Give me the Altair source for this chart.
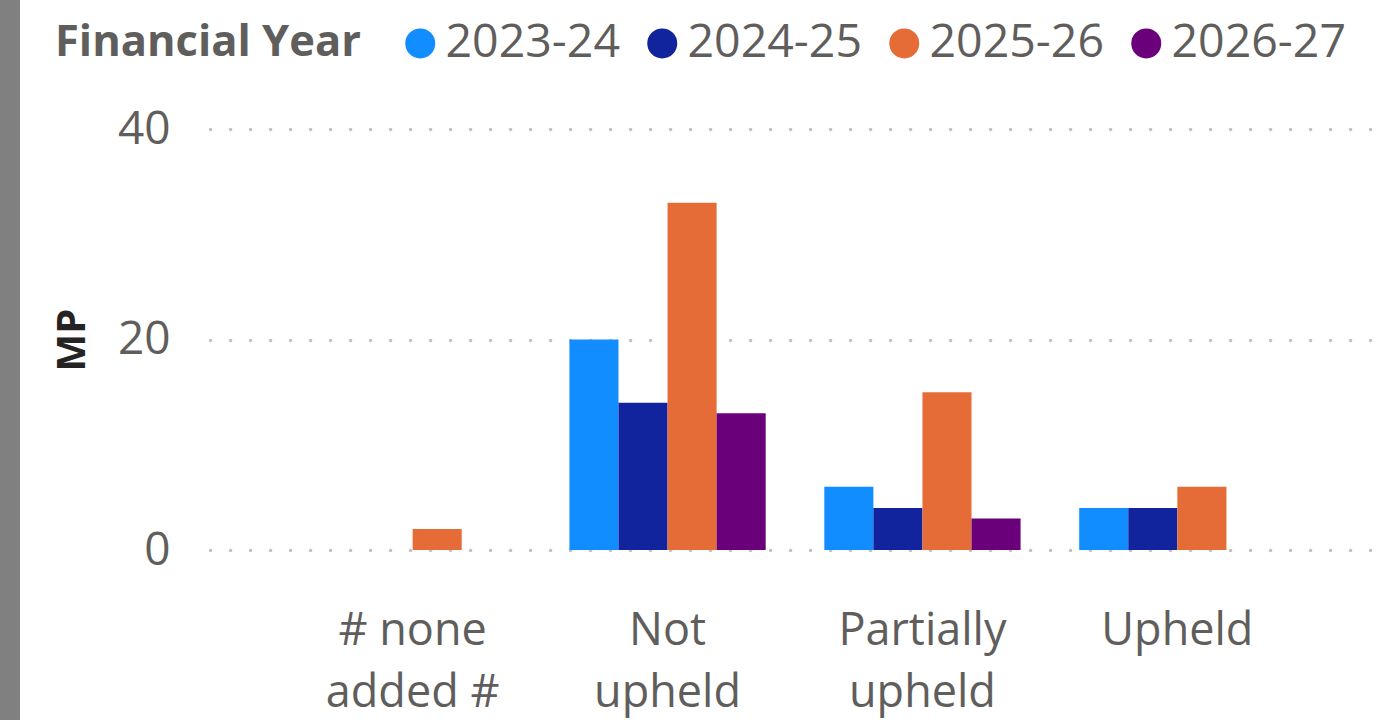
import altair as alt
import pandas as pd

categories = ["# none added #", "Not upheld", "Partially upheld", "Upheld"]
years = ["2023-24", "2024-25", "2025-26", "2026-27"]
colors = ["#118DFF", "#12239E", "#E66C37", "#6B007B"]

# values per year, in category order (None = no bar)
v_2023_24 = [None, 20, 6, 4]
v_2024_25 = [None, 14, 4, 4]
v_2025_26 = [2, 33, 15, 6]
v_2026_27 = [None, 13, 3, None]

rows = []
for yr, vals in zip(years, [v_2023_24, v_2024_25, v_2025_26, v_2026_27]):
    for cat, v in zip(categories, vals):
        if v is not None:
            rows.append({"Category": cat, "Financial Year": yr, "MP": v})
df = pd.DataFrame(rows)

FONT = "Open Sans"
TXT = "#605E5C"

bars = alt.Chart(df).mark_bar().encode(
    x=alt.X("Category:N", sort=categories,
            scale=alt.Scale(domain=categories, paddingInner=0.23, paddingOuter=0.41),
            axis=alt.Axis(title=None, domain=False, ticks=False, grid=False, labelAngle=0,
                          labelFontSize=45, labelColor=TXT, labelFont=FONT,
                          labelPadding=58, labelLineHeight=62, labelBaseline="top",
                          labelExpr="datum.value == '# none added #' ? ['# none', 'added #'] : split(datum.value, ' ')")),
    xOffset=alt.XOffset("Financial Year:N", scale=alt.Scale(domain=years, paddingInner=0, paddingOuter=0)),
    y=alt.Y("MP:Q", scale=alt.Scale(domain=[0, 40], nice=False),
            axis=alt.Axis(values=[0, 20, 40], title="MP", domain=False, ticks=False,
                          labelFontSize=46, labelColor=TXT, labelFont=FONT, labelPadding=40,
                          titleFontSize=40, titleFont=FONT, titleFontWeight="bold",
                          titleColor="#252423", titlePadding=25,
                          gridColor="#C4C2C0", gridWidth=3.5, gridDash=[0.1, 19.9], gridCap="round")),
    color=alt.Color("Financial Year:N", scale=alt.Scale(domain=years, range=colors),
                    legend=alt.Legend(orient="none", legendX=-155, legendY=-109,
                                      direction="horizontal", titleOrient="left",
                                      title="Financial Year", titleFont=FONT,
                                      titleFontSize=43.5, titleFontWeight="bold", titleColor=TXT,
                                      titlePadding=36, titleLimit=0, labelLimit=0,
                                      labelFont=FONT, labelFontSize=46.5,
                                      labelColor=TXT, symbolType="circle", symbolSize=900,
                                      symbolStrokeWidth=0, labelOffset=2, columnPadding=19)),
)

stripe = alt.Chart(pd.DataFrame({"a": [1]})).mark_rect(color="#808080").encode(
    x=alt.value(-210), x2=alt.value(-190), y=alt.value(-129), y2=alt.value(600)
)

chart = alt.layer(stripe, bars).properties(
    width=1170, height=421,
    background="white",
    autosize=alt.AutoSizeParams(type="none"),
    padding={"left": 210, "top": 129, "right": 10, "bottom": 170},
).configure_view(stroke=None, strokeWidth=0)

chart.save("out.html", embed_options={"renderer": "svg", "actions": False})
